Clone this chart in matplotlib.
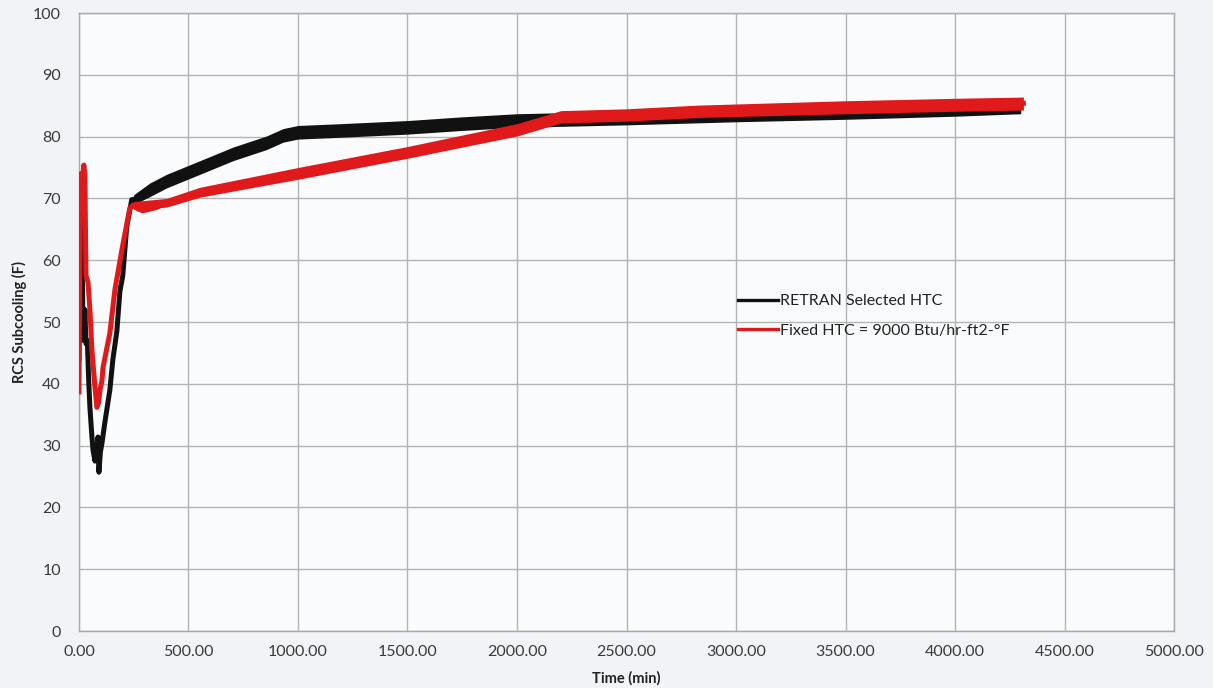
import matplotlib
matplotlib.use("Agg")
import matplotlib.pyplot as plt
from matplotlib.ticker import FormatStrFormatter

# RETRAN selected HTC (black), centre line
retran_t = [0, 5, 10, 14, 18, 22, 27, 32, 38, 45, 50, 58, 64, 73, 80, 87, 91, 98, 105,
            118, 141, 155, 173, 187, 200, 218, 241, 250, 324, 400, 552, 703, 856, 932,
            1000, 1200, 1500, 1750, 2000, 2250, 2500, 2830, 3000, 3500, 4000, 4300]
retran_v = [44, 60, 70, 62, 50, 47, 52, 46.5, 47, 40, 36.2, 32, 29.3, 27.5, 29, 31.4, 25.7,
            29, 30.4, 33.7, 39, 44, 48.5, 55, 57.5, 65.4, 69.8, 69.8, 71.4, 72.8, 75.0, 77.2,
            79.0, 80.2, 80.7, 81.0, 81.5, 82.1, 82.6, 82.8, 82.9, 83.3, 83.4, 83.8, 84.3, 84.7]
# oscillation envelope of the black trace
retran_band_t = [250, 324, 400, 552, 703, 856, 932, 1000, 1200, 1500, 1750, 2000, 2250,
                 2500, 3000, 3500, 4000, 4300]
retran_lo = [69.0, 70.3, 71.7, 73.9, 76.1, 77.9, 79.1, 79.6, 79.9, 80.4, 81.0, 81.5, 81.7,
             81.9, 82.4, 82.8, 83.3, 83.7]
retran_hi = [70.6, 72.5, 73.9, 76.1, 78.3, 80.1, 81.3, 81.8, 82.1, 82.6, 83.2, 83.7, 83.9,
             84.0, 84.4, 84.9, 85.3, 85.7]

# Fixed HTC = 9000 (red)
fixed_t = [0, 3, 8, 14, 22, 27, 32, 41, 50, 59, 73, 82, 90, 96, 105, 110, 141, 164, 196,
           232, 246, 270, 292, 350, 415, 552, 750, 1000, 1250, 1500, 1750, 2000, 2200,
           2500, 2830, 3500, 4000, 4312]
fixed_v = [38.7, 55, 74, 72, 75.4, 74, 57.5, 56.5, 52, 45.5, 39.5, 36.2, 37, 39, 40.5, 42.7,
           48.2, 55.2, 61.7, 68.4, 68.9, 68.3, 68.0, 68.5, 69.4, 71.0, 72.5, 74.0, 75.7,
           77.4, 79.3, 81.1, 83.2, 83.5, 84.1, 84.7, 85.2, 85.4]
fixed_band_t = [250, 400, 552, 1000, 1500, 2000, 2200, 2500, 2830, 3500, 4000, 4312]
fixed_lo = [68.2, 68.6, 70.2, 73.1, 76.5, 80.1, 82.2, 82.5, 83.1, 83.7, 84.1, 84.3]
fixed_hi = [69.5, 70.0, 71.8, 75.0, 78.4, 82.1, 84.2, 84.5, 85.1, 85.8, 86.2, 86.4]

x_ticks = [0, 500, 1000, 1500, 2000, 2500, 3000, 3500, 4000, 4500, 5000]
y_ticks = [0, 10, 20, 30, 40, 50, 60, 70, 80, 90, 100]

plt.rcParams['font.family'] = ['Lato', 'DejaVu Sans']

fig = plt.figure(figsize=(12.13, 6.88), dpi=100, facecolor='#f1f3f7')
ax = fig.add_axes([0.0651, 0.0828, 0.9028, 0.8983])
ax.set_facecolor('#fafbfc')

black = '#111111'
red = '#e0191b'

ax.fill_between(retran_band_t, retran_lo, retran_hi, color=black, lw=0, zorder=2)
ax.plot(retran_t, retran_v, color=black, lw=3.6, zorder=3, solid_joinstyle='round',
        label='RETRAN Selected HTC')
ax.fill_between(fixed_band_t, fixed_lo, fixed_hi, color=red, lw=0, zorder=4)
ax.plot(fixed_t, fixed_v, color=red, lw=3.6, zorder=5, solid_joinstyle='round',
        label='Fixed HTC = 9000 Btu/hr-ft2-°F')

ax.set_xlim(0, 5000)
ax.set_ylim(0, 100)
ax.set_xticks(x_ticks)
ax.set_yticks(y_ticks)
ax.xaxis.set_major_formatter(FormatStrFormatter('%.2f'))
ax.grid(True, color='#b4b4b4', lw=1)
ax.set_axisbelow(True)
for s in ax.spines.values():
    s.set_color('#a8a8a8')
    s.set_linewidth(1)
ax.tick_params(length=0, labelsize=11.5, labelcolor='#3a3a3a')
ax.tick_params(axis='y', pad=13)
ax.tick_params(axis='x', pad=10)

ax.set_xlabel('Time (min)', fontsize=10.5, fontweight='bold', color='#222222', labelpad=9)
ax.set_ylabel('RCS Subcooling (F)', fontsize=10.5, fontweight='bold', color='#222222', labelpad=4)

leg = ax.legend(loc='center left', bbox_to_anchor=(0.589, 0.51), frameon=False,
                fontsize=11.5, handlelength=2.5, handletextpad=0.1, labelspacing=0.95)
for h in leg.get_lines():
    h.set_linewidth(2.4)
for t in leg.get_texts():
    t.set_color('#222222')

fig.savefig('out.png', dpi=100, facecolor=fig.get_facecolor())
